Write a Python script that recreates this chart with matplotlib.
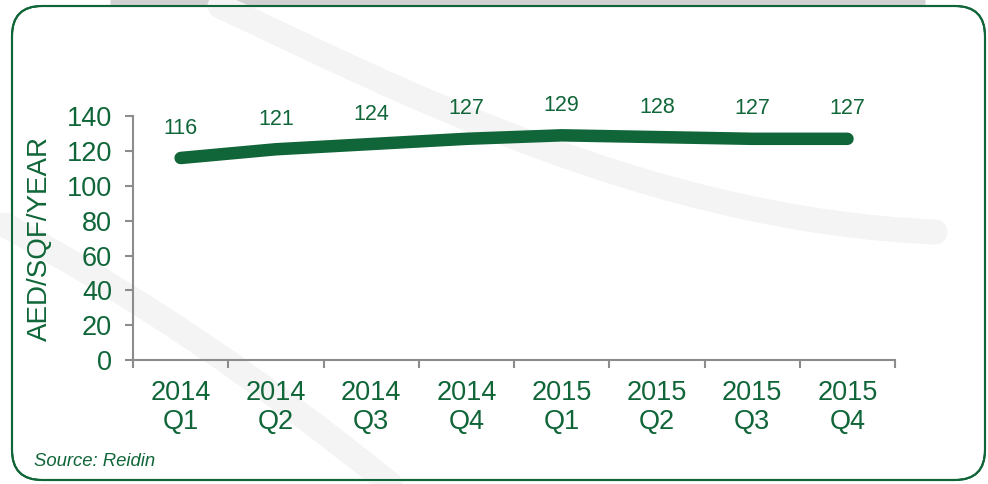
import numpy as np
import matplotlib.pyplot as plt
from matplotlib.patches import FancyBboxPatch, PathPatch
from matplotlib.path import Path

plt.rcParams['font.family'] = ['Liberation Sans', 'DejaVu Sans']

quarters = ["2014\nQ1", "2014\nQ2", "2014\nQ3", "2014\nQ4",
            "2015\nQ1", "2015\nQ2", "2015\nQ3", "2015\nQ4"]
rents = [116, 121, 124, 127, 129, 128, 127, 127]
y_ticks = [0, 20, 40, 60, 80, 100, 120, 140]

green = "#106639"
gray = "#8c8c8c"

fig = plt.figure(figsize=(9.88, 4.84), dpi=100)

# background layer in pixel units: shadow strip, faint swooshes, rounded frame
bg = fig.add_axes([0, 0, 1, 1], zorder=0)
bg.set_xlim(0, 988)
bg.set_ylim(484, 0)
bg.axis("off")
bg.plot([110, 925], [3, 3], color="#d2d2d2", lw=5, solid_capstyle="butt")
frame = FancyBboxPatch((12, 6), 973, 474, boxstyle="round,pad=0,rounding_size=30",
                       fc="white", ec=green, lw=1.5, zorder=1)
bg.add_patch(frame)
C4, C3, MV = Path.CURVE4, Path.CURVE3, Path.MOVETO
swoosh1 = Path([(220, 6), (400, 90), (650, 220), (935, 232)], [MV, C4, C4, C4])
swoosh2 = Path([(5, 225), (200, 330), (390, 484)], [MV, C3, C3])
for p in (swoosh1, swoosh2):
    bg.add_patch(PathPatch(p, fc="none", ec="#f4f4f4", lw=18, capstyle="round", zorder=2))
bg.add_patch(FancyBboxPatch((12, 6), 973, 474, boxstyle="round,pad=0,rounding_size=30",
                            fc="none", ec=green, lw=1.5, zorder=3))

ax = fig.add_axes([0.1346, 0.256, 0.7714, 0.504], zorder=1)
ax.patch.set_alpha(0)
x = np.arange(len(rents))
ax.plot(x, rents, color=green, lw=9, solid_capstyle="round", solid_joinstyle="round")
for xi, v in zip(x, rents):
    ax.annotate(str(v), (xi, v), xytext=(0, 14), textcoords="offset points",
                ha="center", va="bottom", color=green, fontsize=15.5)

ax.set_xlim(-0.5, len(rents) - 0.5)
ax.set_ylim(0, 140)
ax.set_yticks(y_ticks)
ax.set_xticks(x)
ax.set_xticklabels(quarters, color=green, fontsize=19.5, linespacing=1.17)
ax.set_xticks(np.arange(-0.5, len(rents)), minor=True)
ax.tick_params(axis="x", which="major", length=0, pad=14)
ax.tick_params(axis="x", which="minor", length=6, width=1.5, color=gray)
ax.tick_params(axis="y", length=6, width=1.5, color=gray, labelcolor=green,
               labelsize=19.5, pad=9)
for s in ["top", "right"]:
    ax.spines[s].set_visible(False)
for s in ["left", "bottom"]:
    ax.spines[s].set_color(gray)
    ax.spines[s].set_linewidth(1.5)
ax.set_ylabel("AED/SQF/YEAR", color=green, fontsize=20, labelpad=10)

fig.text(0.034, 0.038, "Source: Reidin", color=green, fontsize=13.3, style="italic")

fig.savefig("out.png", dpi=100)
